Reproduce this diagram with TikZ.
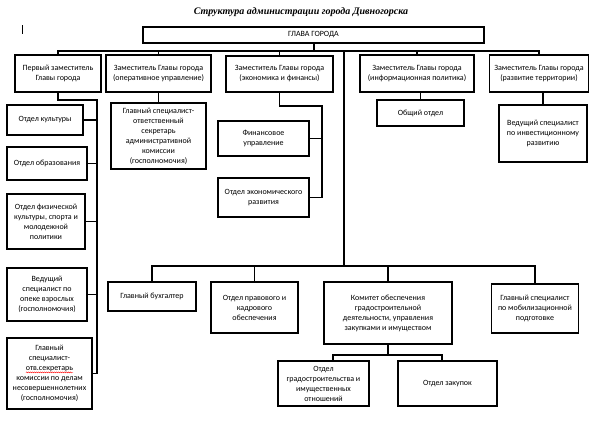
\documentclass[tikz,border=0pt]{standalone}
\usepackage{fontspec}
\usetikzlibrary{decorations.pathmorphing}
\setmainfont{Carlito}
\newfontfamily\titlefont{Liberation Serif}
\newcommand{\redwave}[1]{\tikz[baseline=(w.base)]{\node[draw=none, fill=none, minimum width=0pt, minimum height=0pt, inner sep=0pt, outer sep=0pt, anchor=base] (w) {#1};
  \draw[red, line width=0.4pt, decorate, decoration={snake,amplitude=0.5pt,segment length=2pt}] ([yshift=-1.8pt]w.base west) -- ([yshift=-1.8pt]w.base east);}}
\tikzset{
  box/.style={draw=black, line width=1.1pt, align=center, inner sep=1pt,
    font=\fontsize{8}{10}\selectfont, fill=white},
  link/.style={draw=black, line width=1.1pt}
}
\begin{document}
\begin{tikzpicture}[x=1pt,y=-1pt]
\useasboundingbox (0,0) rectangle (604,431);
\fill[white] (0,0) rectangle (604,431);
\node[font=\titlefont\bfseries\itshape\fontsize{10}{12}\selectfont] (title) at (301,12) {Структура администрации города Дивногорска};
\coordinate (curA) at (22,25);
\coordinate (curB) at (22,34);
\draw[line width=0.6pt] (curA) -- (curB);

% top level
\node[box, minimum width=341, minimum height=16] (glava) at (313.5,35) {ГЛАВА ГОРОДА};
\node[box, minimum width=86, minimum height=37] (d1) at (58,73.5) {Первый заместитель\\Главы города};
\node[box, minimum width=105, minimum height=37] (d2) at (158.5,73.5) {Заместитель Главы города\\(оперативное управление)};
\node[box, minimum width=107, minimum height=36] (d3) at (279.5,74) {Заместитель Главы города\\(экономика и финансы)};
\node[box, minimum width=114, minimum height=37] (d4) at (417,73.5) {Заместитель Главы города\\(информационная политика)};
\node[box, minimum width=99, minimum height=37] (d5) at (539,73.5) {Заместитель Главы города\\(развитие территории)};

\coordinate (tb) at (314,51);
\coordinate (midtop) at (344,51);
\coordinate (bb) at (344,266);
\draw[link] (glava.south -| tb) -- (tb);
\draw[link] (d1.north) |- (tb) -| (d5.north);
\draw[link] (d2.north) -- (d2.north |- tb);
\draw[link] (d3.north) -- (d3.north |- tb);
\draw[link] (d4.north) -- (d4.north |- tb);
\draw[link] (midtop) -- (bb);

% left column
\node[box, minimum width=76, minimum height=30] (cult) at (45,120) {Отдел культуры};
\node[box, minimum width=80, minimum height=33] (educ) at (47,163.5) {Отдел образования};
\node[box, minimum width=78, minimum height=55] (phys) at (46,221.5) {Отдел физической\\культуры, спорта и\\молодежной\\политики};
\node[box, minimum width=80, minimum height=53] (opek) at (47,294.5) {Ведущий\\специалист по\\опеке взрослых\\(госполномочия)};
\node[box, minimum width=85, minimum height=71] (kdn) at (49.5,373.5) {Главный\\специалист-\\\redwave{отв.секретарь}\\комиссии по делам\\несовершеннолетних\\(госполномочия)};
\coordinate (lv) at (97,100);
\draw[link] (d1.south) |- (lv) -- (lv |- kdn.east) -- (kdn.east);
\draw[link] (cult.east) -- (cult.east -| lv);
\draw[link] (educ.east) -- (educ.east -| lv);
\draw[link] (phys.east) -- (phys.east -| lv);
\draw[link] (opek.east) -- (opek.east -| lv);

% d2 child
\node[box, minimum width=95, minimum height=66] (sek) at (158.5,136) {Главный специалист-\\ответственный\\секретарь\\административной\\комиссии\\(госполномочия)};
\draw[link] (d2.south) -- (sek.north);

% d3 children
\node[box, minimum width=91, minimum height=35] (fin) at (263.5,138.5) {Финансовое\\управление};
\node[box, minimum width=91, minimum height=39] (econ) at (263.5,197.5) {Отдел экономического\\развития};
\coordinate (ev) at (322,106);
\draw[link] (d3.south) |- (ev) -- (ev |- econ.east) -- (econ.east);
\draw[link] (fin.east) -- (fin.east -| ev);

% d4, d5 children
\node[box, minimum width=87, minimum height=26] (obsh) at (420.5,113) {Общий отдел};
\draw[link] (d4.south -| obsh.north) -- (obsh.north);
\node[box, minimum width=88, minimum height=57] (inv) at (543,133.5) {Ведущий специалист\\по инвестиционному\\развитию};
\draw[link] (d5.south -| inv.north) -- (inv.north);

% bottom row
\node[box, minimum width=88, minimum height=29] (buh) at (152,296.5) {Главный бухгалтер};
\node[box, minimum width=87, minimum height=51] (prav) at (254.5,307.5) {Отдел правового и\\кадрового\\обеспечения};
\node[box, minimum width=128, minimum height=62] (kom) at (388,313) {Комитет обеспечения\\градостроительной\\деятельности, управления\\закупками и имуществом};
\node[box, minimum width=87, minimum height=49] (mob) at (535,308.5) {Главный специалист\\по мобилизационной\\подготовке};
\draw[link] (buh.north) |- (bb) -| (mob.north);
\draw[link] (prav.north) -- (prav.north |- bb);
\draw[link] (kom.north) -- (kom.north |- bb);

\node[box, minimum width=91, minimum height=45] (grad) at (323.5,383.5) {Отдел\\градостроительства и\\имущественных\\отношений};
\node[box, minimum width=99, minimum height=45] (zak) at (447.5,383.5) {Отдел закупок};
\coordinate (kb) at (388,355);
\coordinate (gv) at (333,355);
\coordinate (zv) at (442,355);
\draw[link] (kom.south) -- (kb);
\draw[link] (grad.north -| gv) -- (gv) -- (zv) -- (zak.north -| zv);
\end{tikzpicture}
\end{document}
